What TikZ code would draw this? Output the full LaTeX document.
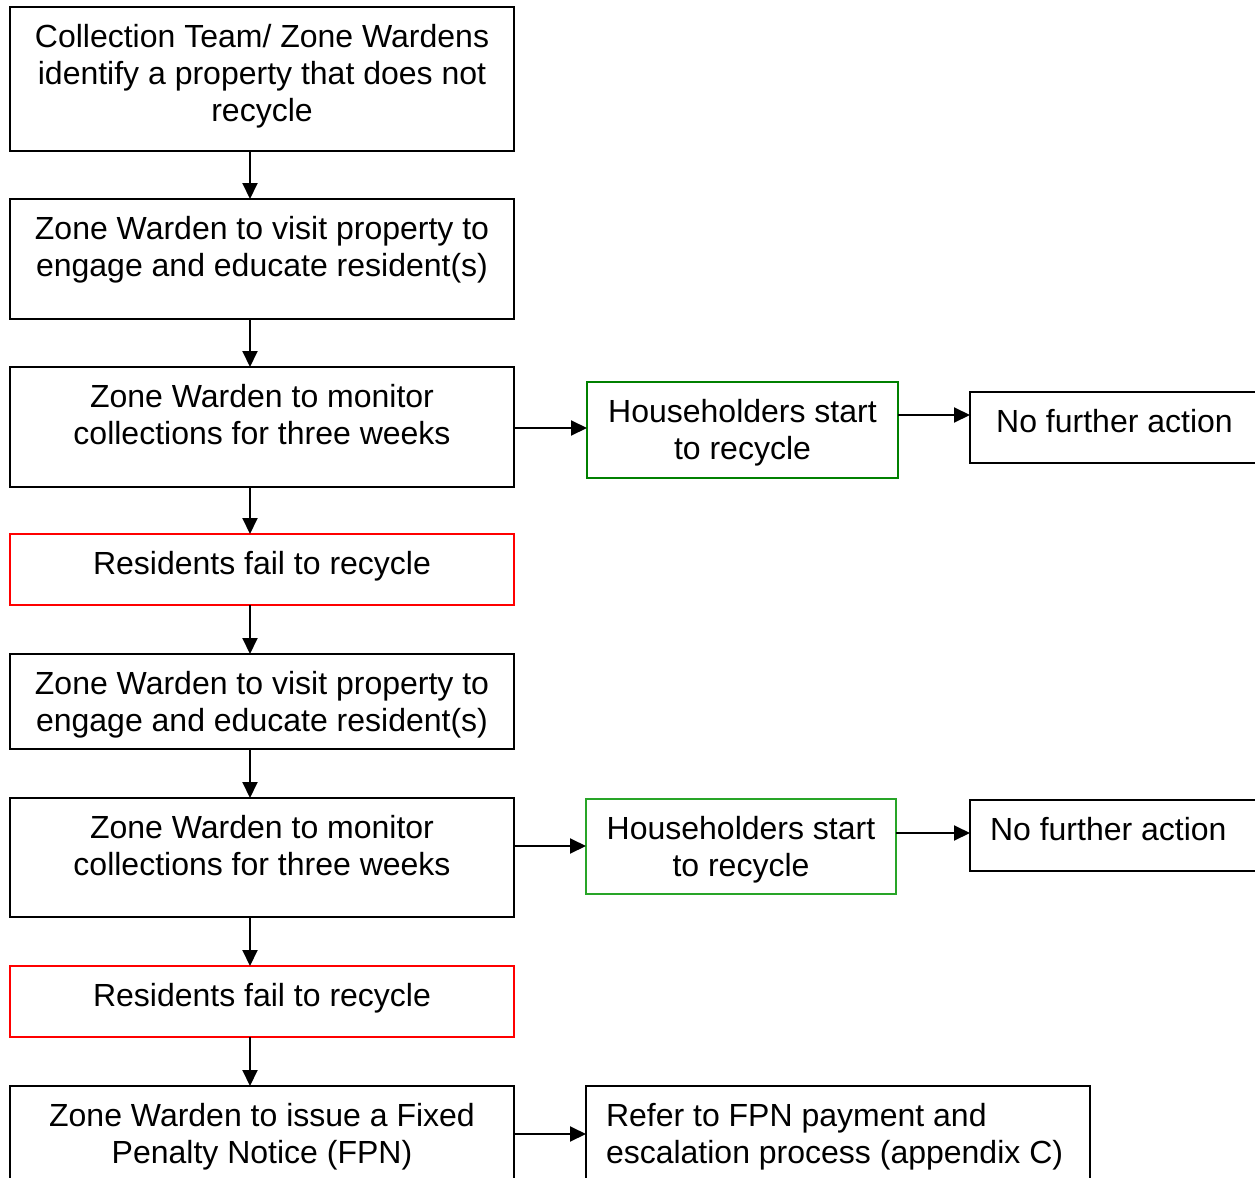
\documentclass[tikz,border=0pt]{standalone}
\usepackage{fontspec}
\setmainfont{Liberation Sans}
\usetikzlibrary{arrows.meta}
\definecolor{gA}{RGB}{0,128,0}
\definecolor{gB}{RGB}{40,165,40}
\definecolor{rA}{RGB}{255,0,0}
\newcommand{\ctext}[3]{\parbox[c][#2][t]{#1}{\centering\rule{0pt}{20.25pt}#3}}
\newcommand{\ltext}[3]{\parbox[c][#2][t]{#1}{\raggedright\leftskip=10pt\rule{0pt}{20.25pt}#3}}
\begin{document}
\begin{tikzpicture}[x=0.5pt,y=-0.5pt,
  box/.style={draw, line width=1pt, inner sep=0pt, outer sep=0pt, anchor=north west,
    font=\fontsize{16}{18.5}\selectfont},
  redbox/.style={box, draw=rA},
  greenA/.style={box, draw=gA},
  greenB/.style={box, draw=gB},
  arr/.style={line width=1pt, -{Triangle[length=8pt,width=7.5pt]}}]
\useasboundingbox (0,0) rectangle (1255,1178);
\fill[white] (0,0) rectangle (1255,1178);
\clip (0,0) rectangle (1255,1178);

\node[box] (b1) at (10,7) {\ctext{252pt}{72pt}{Collection Team/ Zone Wardens\\identify a property that does not\\recycle}};
\node[box] (b2) at (10,199) {\ctext{252pt}{60pt}{Zone Warden to visit property to\\engage and educate resident(s)}};
\node[box] (b3) at (10,367) {\ctext{252pt}{60pt}{Zone Warden to monitor\\collections for three weeks}};
\node[redbox] (b4) at (10,534) {\ctext{252pt}{35.5pt}{Residents fail to recycle}};
\node[box] (b5) at (10,654) {\ctext{252pt}{47.5pt}{Zone Warden to visit property to\\engage and educate resident(s)}};
\node[box] (b6) at (10,798) {\ctext{252pt}{59.5pt}{Zone Warden to monitor\\collections for three weeks}};
\node[redbox] (b7) at (10,966) {\ctext{252pt}{35.5pt}{Residents fail to recycle}};
\node[box] (b8) at (10,1086) {\ctext{252pt}{57pt}{Zone Warden to issue a Fixed\\Penalty Notice (FPN)}};

\node[greenA] (g1) at (587,382) {\ctext{155.5pt}{48pt}{Householders start\\to recycle}};
\node[box] (n1) at (970,392) {\ctext{144.5pt}{35.5pt}{No further action}};
\node[greenB] (g2) at (586,799) {\ctext{155pt}{47.5pt}{Householders start\\to recycle}};
\node[box] (n2) at (970,800) {\ltext{150pt}{35.5pt}{No further action}};
\node[box] (r1) at (586,1086) {\ltext{252pt}{57pt}{Refer to FPN payment and\\escalation process (appendix C)}};

\coordinate (ax) at (250,0);
\coordinate (ya) at (0,428);
\coordinate (yb) at (0,415);
\coordinate (yc) at (0,846);
\coordinate (yd) at (0,833);
\coordinate (ye) at (0,1134);

\draw[arr] (b1.south -| ax) -- (b2.north -| ax);
\draw[arr] (b2.south -| ax) -- (b3.north -| ax);
\draw[arr] (b3.south -| ax) -- (b4.north -| ax);
\draw[arr] (b4.south -| ax) -- (b5.north -| ax);
\draw[arr] (b5.south -| ax) -- (b6.north -| ax);
\draw[arr] (b6.south -| ax) -- (b7.north -| ax);
\draw[arr] (b7.south -| ax) -- (b8.north -| ax);

\draw[arr] (b3.east |- ya) -- (g1.west |- ya);
\draw[arr] (g1.east |- yb) -- (n1.west |- yb);
\draw[arr] (b6.east |- yc) -- (g2.west |- yc);
\draw[arr] (g2.east |- yd) -- (n2.west |- yd);
\draw[arr] (b8.east |- ye) -- (r1.west |- ye);
\end{tikzpicture}
\end{document}
